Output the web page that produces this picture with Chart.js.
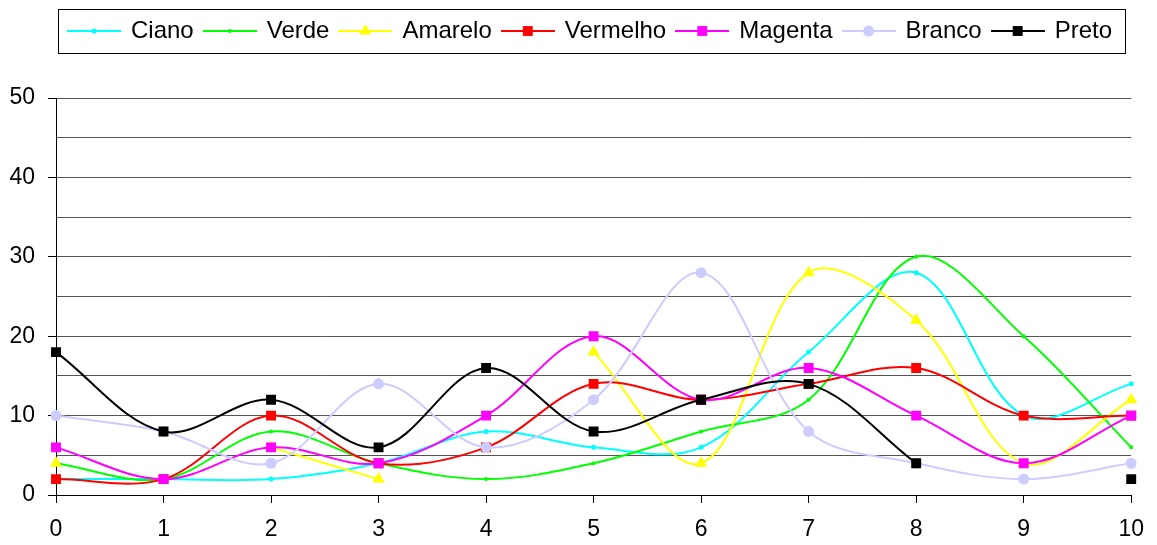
<!DOCTYPE html>
<html>
<head>
<meta charset="utf-8">
<script src="https://cdn.jsdelivr.net/npm/chart.js@4/dist/chart.umd.min.js"></script>
<style>
  html, body { margin: 0; padding: 0; background: #fff; }
  #wrap { width: 1157px; height: 545px; }
</style>
</head>
<body>
<div id="wrap"><canvas id="chart" width="1157" height="545"></canvas></div>
<script>
// x categories
const xLabels = ['0', '1', '2', '3', '4', '5', '6', '7', '8', '9', '10'];

// series values (null = no point)
const ciano    = [2, 2, 2, 4, 8, 6, 6, 18, 28, 10, 14];
const verde    = [4, 2, 8, 4, 2, 4, 8, 12, 30, 20, 6];
const amarelo  = [4, null, 6, 2, null, 18, 4, 28, 22, 4, 12];
const vermelho = [2, 2, 10, 4, 6, 14, 12, 14, 16, 10, 10];
const magenta  = [6, 2, 6, 4, 10, 20, 12, 16, 10, 4, 10];
const branco   = [10, 8, 4, 14, 6, 12, 28, 8, 4, 2, 4];
const preto    = [18, 8, 12, 6, 16, 8, 12, 14, 4, null, 2];

const seriesNames = ['Ciano', 'Verde', 'Amarelo', 'Vermelho', 'Magenta', 'Branco', 'Preto'];
const seriesData = [ciano, verde, amarelo, vermelho, magenta, branco, preto];

// y axis
const yMin = 0;
const yMax = 50;
const yStep = 5;
const yLabelEvery = 10;

const FONT = "'Liberation Sans', Arial, sans-serif";

// look of each series: colour, marker shape, marker radius
const looks = [
    { color: '#00FFFF', shape: 'circle',   radius: 2.5 },
    { color: '#00FF00', shape: 'circle',   radius: 2 },
    { color: '#FFFF00', shape: 'triangle', radius: 7 },
    { color: '#FF0000', shape: 'rect',     radius: 7 },
    { color: '#FF00FF', shape: 'rect',     radius: 7 },
    { color: '#CCCCFF', shape: 'circle',   radius: 5.5 },
    { color: '#000000', shape: 'rect',     radius: 7 }
];

/**
 * Small canvas used as legend symbol: a line with the marker in its middle
 */
function makeLegendIcon(look) {
    const c = document.createElement('canvas');
    c.width = 54;
    c.height = 16;
    const g = c.getContext('2d');
    g.strokeStyle = look.color;
    g.lineWidth = 2;
    g.beginPath();
    g.moveTo(0, 8);
    g.lineTo(54, 8);
    g.stroke();

    g.fillStyle = look.color;
    const cx = 27, cy = 8, r = look.radius;
    g.beginPath();
    if (look.shape === 'rect') {
        const s = r * Math.SQRT1_2;
        g.rect(cx - s, cy - s, 2 * s, 2 * s);
    } else if (look.shape === 'triangle') {
        g.moveTo(cx, cy - r);
        g.lineTo(cx + r * Math.sin(Math.PI * 2 / 3), cy - r * Math.cos(Math.PI * 2 / 3));
        g.lineTo(cx + r * Math.sin(Math.PI * 4 / 3), cy - r * Math.cos(Math.PI * 4 / 3));
        g.closePath();
    } else {
        g.arc(cx, cy, r, 0, Math.PI * 2);
    }
    g.fill();
    return c;
}

const legendIcons = looks.map(makeLegendIcon);

// extra room under the legend items
const legendSpace = {
    id: 'legendSpace',
    beforeInit(chart) {
        const legend = chart.legend;
        if (!legend) return;
        const fit = legend.fit;
        legend.fit = function () {
            fit.call(this);
            this.height += 45;
        };
    },
    // the legend sits a bit right of the canvas centre
    afterLayout(chart) {
        const legend = chart.legend;
        if (!legend) return;
        legend.left += 24;
        legend.right += 24;
    }
};

// frame around the legend
const legendFrame = {
    id: 'legendFrame',
    afterDraw(chart) {
        const boxes = chart.legend && chart.legend.legendHitBoxes;
        if (!boxes || !boxes.length) return;
        const first = boxes[0];
        const last = boxes[boxes.length - 1];
        const left = Math.round(first.left - 11) + 0.5;
        const right = Math.round(last.left + last.width + 13) + 0.5;
        const top = Math.round(first.top - 10) + 0.5;
        const bottom = Math.round(first.top + first.height + 10) + 0.5;
        const ctx = chart.ctx;
        ctx.save();
        ctx.strokeStyle = '#000';
        ctx.lineWidth = 1;
        ctx.strokeRect(left, top, right - left, bottom - top);
        ctx.restore();
    }
};

const datasets = seriesNames.map((name, i) => ({
    label: name,
    data: seriesData[i],
    borderColor: looks[i].color,
    backgroundColor: looks[i].color,
    borderWidth: 2,
    pointStyle: looks[i].shape,
    pointRadius: looks[i].radius,
    pointHoverRadius: looks[i].radius,
    pointBorderWidth: 0,
    pointBackgroundColor: looks[i].color,
    tension: 0.35,
    spanGaps: false,
    fill: false,
    order: seriesNames.length - i   // later series drawn on top
}));

new Chart(document.getElementById('chart'), {
    type: 'line',
    data: { labels: xLabels, datasets: datasets },
    plugins: [legendSpace, legendFrame],
    options: {
        responsive: false,
        animation: false,
        layout: { padding: { top: 8, left: 0, right: 24, bottom: 0 } },
        plugins: {
            tooltip: { enabled: false },
            legend: {
                display: true,
                position: 'top',
                align: 'center',
                labels: {
                    usePointStyle: true,
                    pointStyleWidth: 50,
                    padding: 11,
                    color: '#000',
                    font: { family: FONT, size: 24 },
                    generateLabels(chart) {
                        const items = Chart.defaults.plugins.legend.labels.generateLabels(chart);
                        items.sort((a, b) => a.datasetIndex - b.datasetIndex);
                        items.forEach(it => {
                            it.pointStyle = legendIcons[it.datasetIndex];
                            it.rotation = 0;
                        });
                        return items;
                    }
                }
            }
        },
        scales: {
            x: {
                type: 'category',
                offset: false,
                afterFit(scale) { scale.height = 50; },
                grid: {
                    display: true,
                    drawOnChartArea: false,
                    drawTicks: true,
                    tickLength: 8,
                    color: '#000',
                    tickColor: '#000'
                },
                border: { display: true, color: '#000', width: 1 },
                ticks: {
                    color: '#000',
                    font: { family: FONT, size: 23 },
                    padding: 13,
                    maxRotation: 0,
                    autoSkip: false
                }
            },
            y: {
                min: yMin,
                max: yMax,
                afterFit(scale) { scale.width = 56; },
                grid: {
                    color: '#555',
                    lineWidth: 1,
                    tickLength: 8,
                    tickColor: ctx => (ctx.tick && ctx.tick.value % yLabelEvery === 0) ? '#000' : 'rgba(0,0,0,0)'
                },
                border: { display: true, color: '#000', width: 1 },
                ticks: {
                    stepSize: yStep,
                    autoSkip: false,
                    color: '#000',
                    padding: 13,
                    font: { family: FONT, size: 23 },
                    callback: v => (v % yLabelEvery === 0 ? v : '')
                }
            }
        }
    }
});
</script>
</body>
</html>
